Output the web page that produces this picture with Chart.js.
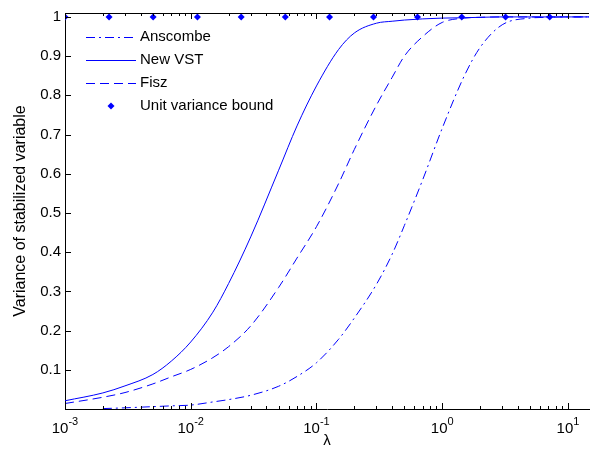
<!DOCTYPE html>
<html>
<head>
<meta charset="utf-8">
<script src="https://cdn.jsdelivr.net/npm/chart.js@4.4.1/dist/chart.umd.min.js"></script>
<style>
    html, body { margin: 0; padding: 0; background: #fff; }
    #wrap { width: 593px; height: 455px; }
</style>
</head>
<body>
<div id="wrap"><canvas id="vstChart" width="593" height="455"></canvas></div>
<script>
// lambda grid shared by the three curves
const lambdas  = [0.001, 0.002, 0.003, 0.005, 0.007, 0.01, 0.015, 0.02, 0.03, 0.05, 0.07, 0.1, 0.15, 0.2, 0.3, 0.4, 0.5, 0.7, 1, 1.5, 2, 3, 5, 7, 10, 14.7];
const anscombe = [null, 0.001, 0.003, 0.006, 0.008, 0.010, 0.018, 0.024, 0.035, 0.058, 0.083, 0.118, 0.178, 0.232, 0.318, 0.395, 0.468, 0.585, 0.716, 0.850, 0.922, 0.980, 0.997, 0.999, 1.0, 1.0];
const newVst   = [0.021, 0.041, 0.059, 0.088, 0.122, 0.171, 0.247, 0.320, 0.439, 0.609, 0.722, 0.824, 0.917, 0.959, 0.984, 0.989, 0.992, 0.995, 0.997, 0.998, 0.999, 1.0, 1.0, 1.0, 1.0, 1.0];
const fisz     = [0.014, 0.030, 0.042, 0.064, 0.082, 0.101, 0.131, 0.159, 0.212, 0.310, 0.385, 0.465, 0.575, 0.662, 0.775, 0.846, 0.900, 0.950, 0.986, 0.997, 0.999, 1.0, 1.0, 1.0, 1.0, 1.0];

// unit variance bound markers
const boundLambdas = [0.001, 0.00224, 0.00502, 0.0113, 0.0252, 0.0565, 0.127, 0.284, 0.636, 1.43, 3.19, 7.16];
const boundValues  = [1, 1, 1, 1, 1, 1, 1, 1, 1, 1, 1, 1];

const yTicks   = [0.1, 0.2, 0.3, 0.4, 0.5, 0.6, 0.7, 0.8, 0.9, 1];
const xDecades = [-3, -2, -1, 0, 1];

const FONT = '"Liberation Sans", Arial, sans-serif';
const BLUE = 'rgb(0,0,255)';

const toPoints = (xs, ys) => xs.map((x, i) => ({ x: x, y: ys[i] }));

// MATLAB-ish frame: top border, inward ticks, 10^k labels, legend inside the axes
const matlabFrame = {
    id: 'matlabFrame',
    afterDraw(chart) {
        const { ctx, chartArea: a, scales: { x, y } } = chart;
        ctx.save();
        ctx.strokeStyle = '#000';
        ctx.lineWidth = 1;
        ctx.beginPath();
        ctx.moveTo(a.left, a.top + 0.5);
        ctx.lineTo(a.right, a.top + 0.5);
        xDecades.forEach(k => {
            for (let m = 1; m < 10; m++) {
                const v = m * Math.pow(10, k);
                if (v < x.min || v > x.max) continue;
                const px = Math.round(x.getPixelForValue(v)) + 0.5;
                const len = m === 1 ? 6 : 3;
                ctx.moveTo(px, a.bottom);
                ctx.lineTo(px, a.bottom - len);
                ctx.moveTo(px, a.top);
                ctx.lineTo(px, a.top + len);
            }
        });
        yTicks.forEach(v => {
            const py = Math.round(y.getPixelForValue(v)) + 0.5;
            ctx.moveTo(a.left, py);
            ctx.lineTo(a.left + 6, py);
        });
        ctx.stroke();

        // x tick labels 10^k
        ctx.fillStyle = '#000';
        ctx.textBaseline = 'alphabetic';
        ctx.textAlign = 'left';
        xDecades.forEach(k => {
            const px = x.getPixelForValue(Math.pow(10, k));
            const exp = String(k);
            ctx.font = '15px ' + FONT;
            const wBase = ctx.measureText('10').width;
            ctx.font = '11px ' + FONT;
            const wExp = ctx.measureText(exp).width;
            const start = px - (wBase + wExp) / 2;
            ctx.font = '15px ' + FONT;
            ctx.fillText('10', start, 433);
            ctx.font = '11px ' + FONT;
            ctx.fillText(exp, start + wBase, 425);
        });

        // legend
        ctx.font = '15px ' + FONT;
        ctx.textBaseline = 'middle';
        chart.data.datasets.forEach((ds, i) => {
            const cy = 36.5 + i * 23.2;
            ctx.strokeStyle = ds.borderColor;
            ctx.fillStyle = ds.borderColor;
            if (ds.showLine === false) {
                ctx.beginPath();
                ctx.moveTo(111, cy - 3.5);
                ctx.lineTo(114.5, cy);
                ctx.lineTo(111, cy + 3.5);
                ctx.lineTo(107.5, cy);
                ctx.closePath();
                ctx.fill();
            } else {
                ctx.setLineDash(ds.borderDash || []);
                ctx.beginPath();
                ctx.moveTo(86, Math.round(cy) + 0.5);
                ctx.lineTo(136, Math.round(cy) + 0.5);
                ctx.stroke();
                ctx.setLineDash([]);
            }
            ctx.fillStyle = '#000';
            ctx.fillText(ds.label, 140, cy);
        });
        ctx.restore();
    }
};

new Chart(document.getElementById('vstChart'), {
    type: 'scatter',
    data: {
        datasets: [
            {
                label: 'Anscombe',
                data: toPoints(lambdas, anscombe),
                showLine: true,
                borderColor: BLUE,
                borderWidth: 1,
                borderDash: [9, 4, 2, 4],
                pointRadius: 0,
                cubicInterpolationMode: 'monotone'
            },
            {
                label: 'New VST',
                data: toPoints(lambdas, newVst),
                showLine: true,
                borderColor: BLUE,
                borderWidth: 1,
                pointRadius: 0,
                cubicInterpolationMode: 'monotone'
            },
            {
                label: 'Fisz',
                data: toPoints(lambdas, fisz),
                showLine: true,
                borderColor: BLUE,
                borderWidth: 1,
                borderDash: [9, 5],
                pointRadius: 0,
                cubicInterpolationMode: 'monotone'
            },
            {
                label: 'Unit variance bound',
                data: toPoints(boundLambdas, boundValues),
                showLine: false,
                borderColor: BLUE,
                backgroundColor: BLUE,
                pointStyle: 'rectRot',
                pointRadius: 3.5,
                pointBorderWidth: 0
            }
        ]
    },
    options: {
        responsive: false,
        animation: false,
        devicePixelRatio: 1,
        layout: { padding: { top: 13, right: 0, bottom: 0, left: 0 } },
        plugins: {
            legend: { display: false },
            tooltip: { enabled: false }
        },
        scales: {
            x: {
                type: 'logarithmic',
                min: 0.001,
                max: 14.7,
                grid: { display: true, drawOnChartArea: false, drawTicks: false },
                border: { display: true, color: '#000', width: 1 },
                ticks: { display: false },
                title: {
                    display: true,
                    text: 'λ',
                    color: '#000',
                    font: { family: FONT, size: 15 },
                    padding: { top: 0, bottom: 5 }
                },
                afterFit: s => { s.height = 46; }
            },
            y: {
                min: 0,
                max: 1.01,
                grid: { display: true, drawOnChartArea: false, drawTicks: false },
                border: { display: true, color: '#000', width: 1 },
                afterBuildTicks: s => { s.ticks = yTicks.map(v => ({ value: v })); },
                ticks: {
                    color: '#000',
                    padding: 4,
                    font: { family: FONT, size: 15 },
                    callback: v => String(+v.toFixed(1))
                },
                title: {
                    display: true,
                    text: 'Variance of stabilized variable',
                    color: '#000',
                    font: { family: FONT, size: 16 },
                    padding: { top: 11, bottom: 0 }
                },
                afterFit: s => { s.width = 65; }
            }
        }
    },
    plugins: [matlabFrame]
});
</script>
</body>
</html>
